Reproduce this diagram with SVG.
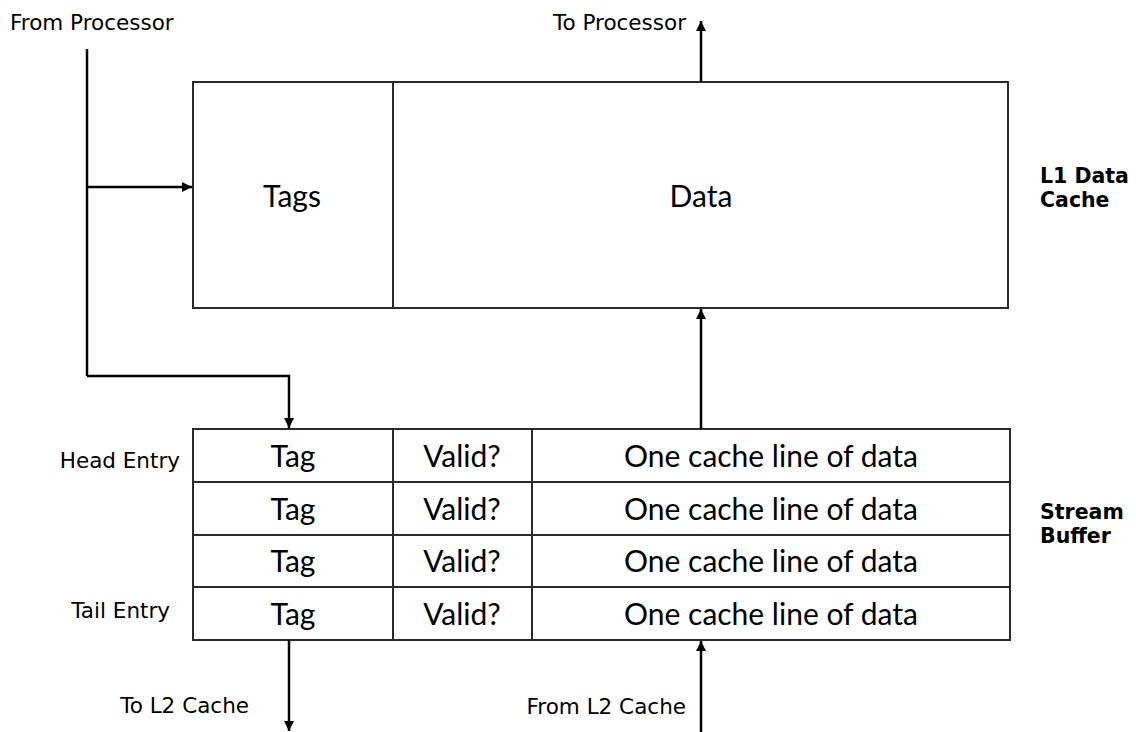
<svg xmlns="http://www.w3.org/2000/svg" width="1136" height="732" viewBox="0 0 1136 732">
  <style>
    .box { fill: #fff; stroke: #2b2b2b; stroke-width: 2; }
    .div { stroke: #2b2b2b; stroke-width: 2; }
    .wire { fill: none; stroke: #000; stroke-width: 2.5; }
    .big { font-family: Lato, "Open Sans", sans-serif; font-size: 30px; fill: #000; text-anchor: middle; }
    .lbl { font-family: "DejaVu Sans", Verdana, sans-serif; font-size: 21.5px; fill: #000; }
    .ttl { font-family: "DejaVu Sans", Verdana, sans-serif; font-size: 20.5px; font-weight: bold; fill: #000; }
  </style>
  <defs>
    <marker id="head" viewBox="0 0 10 10" refX="10" refY="5" markerWidth="4" markerHeight="4" markerUnits="strokeWidth" orient="auto">
      <path d="M0,0 L10,5 L0,10 z" fill="#000"/>
    </marker>
  </defs>
  <rect width="1136" height="732" fill="#fff"/>

  <!-- L1 data cache -->
  <g id="l1-cache">
    <rect class="box" x="193" y="82" width="815" height="226"/>
    <line class="div" x1="393" y1="82" x2="393" y2="308"/>
    <text class="big" x="292" y="207">Tags</text>
    <text class="big" x="701" y="207">Data</text>
    <text class="ttl" x="1040" y="183">L1 Data</text>
    <text class="ttl" x="1040" y="207">Cache</text>
  </g>

  <!-- Stream buffer: four entries -->
  <g id="stream-buffer">
    <rect class="box" x="193" y="429" width="817" height="211"/>
    <line class="div" x1="193" y1="482" x2="1010" y2="482"/>
    <line class="div" x1="193" y1="535" x2="1010" y2="535"/>
    <line class="div" x1="193" y1="587" x2="1010" y2="587"/>
    <line class="div" x1="393" y1="429" x2="393" y2="640"/>
    <line class="div" x1="532" y1="429" x2="532" y2="640"/>
    <text class="big" x="293" y="467">Tag</text>
    <text class="big" x="462" y="467">Valid?</text>
    <text class="big" x="771" y="467">One cache line of data</text>
    <text class="big" x="293" y="520">Tag</text>
    <text class="big" x="462" y="520">Valid?</text>
    <text class="big" x="771" y="520">One cache line of data</text>
    <text class="big" x="293" y="572">Tag</text>
    <text class="big" x="462" y="572">Valid?</text>
    <text class="big" x="771" y="572">One cache line of data</text>
    <text class="big" x="293" y="625">Tag</text>
    <text class="big" x="462" y="625">Valid?</text>
    <text class="big" x="771" y="625">One cache line of data</text>
    <text class="lbl" x="180" y="468" text-anchor="end">Head Entry</text>
    <text class="lbl" x="170" y="618" text-anchor="end">Tail Entry</text>
    <text class="ttl" x="1040" y="519">Stream</text>
    <text class="ttl" x="1040" y="543">Buffer</text>
  </g>

  <!-- Connectors -->
  <g id="connectors">
    <line class="wire" x1="87" y1="49" x2="87" y2="376"/>
    <line class="wire" x1="87" y1="187" x2="192" y2="187" marker-end="url(#head)"/>
    <polyline class="wire" points="87,376 289,376 289,428" marker-end="url(#head)"/>
    <line class="wire" x1="701" y1="82" x2="701" y2="21" marker-end="url(#head)"/>
    <line class="wire" x1="701" y1="429" x2="701" y2="309" marker-end="url(#head)"/>
    <line class="wire" x1="289" y1="640" x2="289" y2="731" marker-end="url(#head)"/>
    <line class="wire" x1="701" y1="732" x2="701" y2="641" marker-end="url(#head)"/>
    <text class="lbl" x="10" y="30">From Processor</text>
    <text class="lbl" x="686" y="30" text-anchor="end">To Processor</text>
    <text class="lbl" x="249" y="713" text-anchor="end">To L2 Cache</text>
    <text class="lbl" x="686" y="714" text-anchor="end">From L2 Cache</text>
  </g>
</svg>
